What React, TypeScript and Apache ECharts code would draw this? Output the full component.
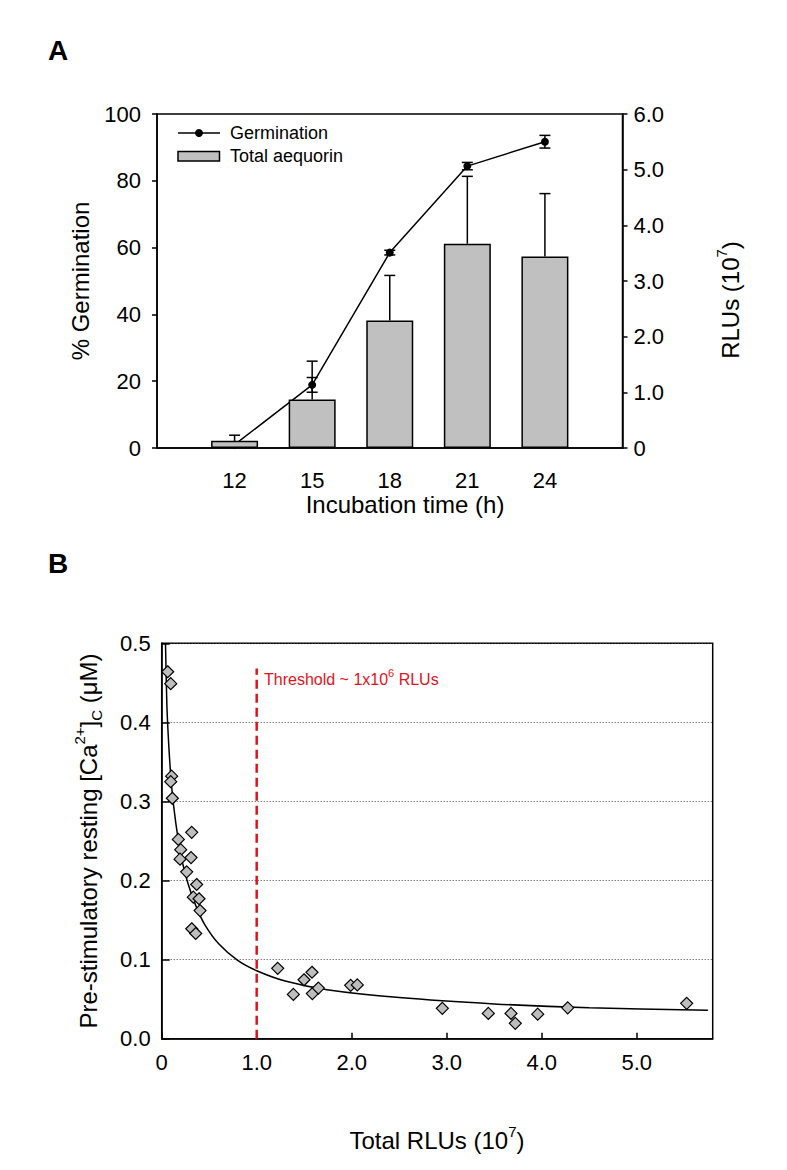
import React, { useEffect, useRef } from "react";
import * as echarts from "echarts";

const FONT = "'Liberation Sans', Arial, sans-serif";

// Panel A data
const hours = [12, 15, 18, 21, 24];
const germination = [1.0, 18.9, 58.5, 84.4, 91.7];
const germinationErr = [0, 2.2, 0.7, 1.1, 1.9];
const aequorin = [0.13, 0.87, 2.29, 3.67, 3.44];
const aequorinErr = [0.1, 0.69, 0.81, 1.21, 1.13];

// Panel B data
const rluX = [
  0.063, 0.095, 0.105, 0.095, 0.112, 0.175, 0.316, 0.2, 0.193, 0.309, 0.263,
  0.368, 0.333, 0.393, 0.404, 0.316, 0.358, 1.221, 1.498, 1.582, 1.386, 1.586,
  1.649, 1.989, 2.059, 2.954, 3.438, 3.677, 3.722, 3.958, 4.274, 5.526,
];
const caY = [
  0.464, 0.449, 0.332, 0.325, 0.304, 0.252, 0.261, 0.239, 0.227, 0.229, 0.211,
  0.195, 0.179, 0.177, 0.162, 0.139, 0.133, 0.089, 0.0745, 0.084, 0.056, 0.057,
  0.064, 0.0675, 0.068, 0.0384, 0.032, 0.032, 0.0194, 0.031, 0.039, 0.0447,
];
const fitX = [0.04, 0.055, 0.075, 0.1, 0.13, 0.17, 0.22, 0.28, 0.36, 0.45, 0.6, 0.8, 1.0, 1.3, 1.74, 2.5, 3.5, 4.5, 5.75];
const fitY = [0.5, 0.42, 0.37, 0.325, 0.29, 0.255, 0.222, 0.195, 0.168, 0.145, 0.12, 0.099, 0.086, 0.073, 0.062, 0.052, 0.044, 0.039, 0.036];
const thresholdX = 1.0;
const thresholdTop = 0.468;

const BLACK = "#000";
const RED = "#e3121b";
const axisLine = { show: true, lineStyle: { color: BLACK, width: 1.5 } };
const labelStyle = { fontSize: 22, color: BLACK, fontFamily: FONT };

function errRender(upOnly: boolean) {
  return (params: any, api: any) => {
    const x = api.value(0);
    const y = api.value(1);
    const e = api.value(2);
    if (!e) return { type: "group", children: [] };
    const top = api.coord([x, y + e]);
    const bot = api.coord(upOnly ? [x, y] : [x, y - e]);
    const half = 5.5;
    const st = { stroke: BLACK, lineWidth: 1.5 };
    const children: any[] = [
      { type: "line", shape: { x1: top[0], y1: top[1], x2: bot[0], y2: bot[1] }, style: st },
      { type: "line", shape: { x1: top[0] - half, y1: top[1], x2: top[0] + half, y2: top[1] }, style: st },
    ];
    if (!upOnly) {
      children.push({ type: "line", shape: { x1: bot[0] - half, y1: bot[1], x2: bot[0] + half, y2: bot[1] }, style: st });
    }
    return { type: "group", children };
  };
}

function txt(x: number, y: number, text: string, size: number, opts: any = {}) {
  return {
    type: "text",
    x,
    y,
    rotation: opts.rotation || 0,
    style: {
      text,
      fill: opts.color || BLACK,
      font: `${opts.bold ? "bold " : ""}${size}px ${FONT}`,
      fontSize: size,
      fontFamily: FONT,
      fontWeight: opts.bold ? "bold" : "normal",
      align: opts.align || "center",
      verticalAlign: "middle",
      textAlign: opts.align || "center",
      textVerticalAlign: "middle",
      rich: opts.rich,
    },
  };
}

function richDef(size: number, supSize: number, color = BLACK) {
  return {
    n: { fontSize: size, fontFamily: FONT, fill: color, color, lineHeight: size + 8, verticalAlign: "middle" },
    sup: { fontSize: supSize, fontFamily: FONT, fill: color, color, lineHeight: supSize, verticalAlign: "top" },
    sub: { fontSize: supSize, fontFamily: FONT, fill: color, color, lineHeight: supSize, verticalAlign: "bottom" },
  };
}

export default function App() {
  const ref = useRef<HTMLDivElement>(null);
  useEffect(() => {
    const chart = echarts.init(ref.current!, null, { renderer: "svg" });
    const option: any = {
      animation: false,
      backgroundColor: "#fff",
      grid: [
        { left: 157, top: 114, width: 465.5, height: 334, show: true, borderColor: BLACK, borderWidth: 1.5, backgroundColor: "transparent" },
        { left: 161.7, top: 643.3, width: 551, height: 395.4, show: true, borderColor: BLACK, borderWidth: 1.5, backgroundColor: "transparent" },
      ],
      xAxis: [
        {
          gridIndex: 0, type: "value", min: 9, max: 27, interval: 3,
          axisLine, axisTick: { show: false }, splitLine: { show: false },
          axisLabel: { ...labelStyle, margin: 21, formatter: (v: number) => (v === 9 || v === 27 ? "" : String(v)) },
        },
        {
          gridIndex: 1, type: "value", min: 0, max: 5.8, interval: 1,
          axisLine, splitLine: { show: false },
          axisTick: { show: true, inside: true, length: 6, lineStyle: { color: BLACK, width: 1.5 } },
          axisLabel: { ...labelStyle, margin: 13, showMaxLabel: false, formatter: (v: number) => (v === 0 ? "0" : v > 5.5 ? "" : v.toFixed(1)) },
        },
      ],
      yAxis: [
        {
          gridIndex: 0, type: "value", position: "left", min: 0, max: 100, interval: 20,
          axisLine, splitLine: { show: false },
          axisTick: { show: true, inside: false, length: 5, lineStyle: { color: BLACK, width: 1.5 } },
          axisLabel: { ...labelStyle, margin: 16 },
        },
        {
          gridIndex: 0, type: "value", position: "right", min: 0, max: 6, interval: 1,
          axisLine, splitLine: { show: false },
          axisTick: { show: true, inside: false, length: 5, lineStyle: { color: BLACK, width: 1.5 } },
          axisLabel: { ...labelStyle, margin: 11, formatter: (v: number) => (v === 0 ? "0" : v.toFixed(1)) },
        },
        {
          gridIndex: 1, type: "value", position: "left", min: 0, max: 0.5, interval: 0.1,
          axisLine,
          splitLine: { show: true, lineStyle: { color: "#444", width: 1, type: [1, 2] } },
          axisTick: { show: true, inside: true, length: 8, lineStyle: { color: BLACK, width: 1.5 } },
          axisLabel: { ...labelStyle, margin: 11, formatter: (v: number) => v.toFixed(1) },
        },
      ],
      series: [
        {
          type: "line", xAxisIndex: 0, yAxisIndex: 0, z: 2,
          data: hours.map((h, i) => [h, germination[i]]),
          symbol: "circle", symbolSize: 8,
          itemStyle: { color: BLACK }, lineStyle: { color: BLACK, width: 1.5 },
        },
        {
          type: "custom", xAxisIndex: 0, yAxisIndex: 0, z: 2,
          data: hours.map((h, i) => [h, germination[i], germinationErr[i]]),
          renderItem: errRender(false),
        },
        {
          type: "bar", xAxisIndex: 0, yAxisIndex: 1, z: 3, barWidth: 47,
          data: hours.map((h, i) => [h, aequorin[i]]),
          itemStyle: { color: "#c0c0c0", borderColor: BLACK, borderWidth: 1.5 },
        },
        {
          type: "custom", xAxisIndex: 0, yAxisIndex: 1, z: 3,
          data: hours.map((h, i) => [h, aequorin[i], aequorinErr[i]]),
          renderItem: errRender(true),
        },
        {
          type: "line", xAxisIndex: 1, yAxisIndex: 2, z: 2,
          data: fitX.map((x, i) => [x, fitY[i]]),
          smooth: 0.3, showSymbol: false, symbol: "none", clip: true,
          lineStyle: { color: BLACK, width: 1.5 },
        },
        {
          type: "line", xAxisIndex: 1, yAxisIndex: 2, z: 2,
          data: [[thresholdX, 0], [thresholdX, thresholdTop]],
          symbol: "none",
          lineStyle: { color: RED, width: 2.5, type: [9, 5] },
        },
        {
          type: "scatter", xAxisIndex: 1, yAxisIndex: 2, z: 4,
          data: rluX.map((x, i) => [x, caY[i]]),
          symbol: "diamond", symbolSize: 12,
          itemStyle: { color: "#bdbdbd", borderColor: BLACK, borderWidth: 1.2, opacity: 1 },
        },
      ],
      graphic: [
        txt(58, 50, "A", 28, { bold: true }),
        txt(58, 563, "B", 28, { bold: true }),
        txt(80, 281, "% Germination", 24, { rotation: Math.PI / 2 }),
        txt(730, 300, "{n|RLUs (10}{sup|7}{n|)}", 24, { rotation: Math.PI / 2, rich: richDef(24, 15) }),
        txt(405, 504, "Incubation time (h)", 24),
        txt(88, 841, "{n|Pre-stimulatory resting [Ca}{sup|2+}{n|]}{sub|C}{n| (μM)}", 24, { rotation: Math.PI / 2, rich: richDef(24, 15) }),
        txt(437, 1140, "{n|Total RLUs (10}{sup|7}{n|)}", 24, { rich: richDef(24, 15) }),
        txt(264, 679, "{n|Threshold ~ 1x10}{sup|6}{n| RLUs}", 16, { align: "left", color: RED, rich: richDef(16, 11, RED) }),
        // legend
        { type: "line", shape: { x1: 178, y1: 133, x2: 220, y2: 133 }, style: { stroke: BLACK, lineWidth: 1.5 } },
        { type: "circle", shape: { cx: 199, cy: 133, r: 4 }, style: { fill: BLACK } },
        { type: "rect", shape: { x: 178, y: 151.5, width: 41.5, height: 9.5 }, style: { fill: "#c0c0c0", stroke: BLACK, lineWidth: 1.5 } },
        txt(230, 133, "Germination", 18, { align: "left" }),
        txt(230, 156, "Total aequorin", 18, { align: "left" }),
      ],
    };
    chart.setOption(option);
    return () => chart.dispose();
  }, []);
  return <div ref={ref} style={{ position: "absolute", left: 0, top: 0, width: 787, height: 1170, background: "#fff" }} />;
}
